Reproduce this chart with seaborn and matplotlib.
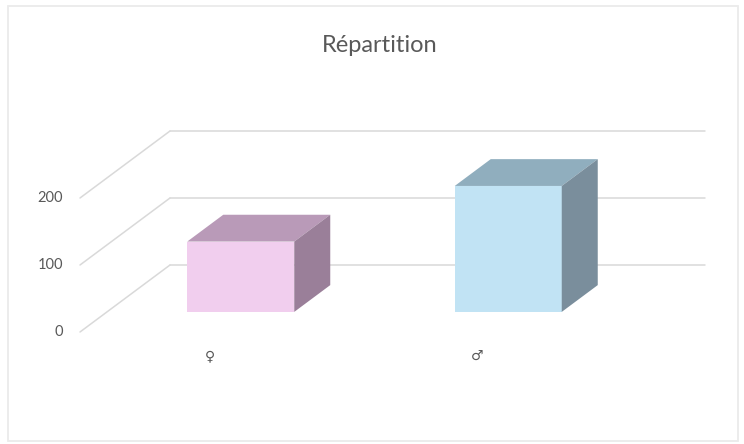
import matplotlib
matplotlib.use("Agg")
import matplotlib.pyplot as plt
from matplotlib.patches import Polygon, Rectangle
import seaborn as sns
import pandas as pd

# Data
categories = ["♀", "♂"]
values = [105, 188]
y_ticks = [0, 100, 200]
title = "Répartition"

front_colors = ["#F1CEEE", "#C1E3F4"]
top_colors = ["#B99AB8", "#90AEBE"]
side_colors = ["#9A7F99", "#7A8E9C"]

sns.set_theme(style="white")
plt.rcParams["font.family"] = ["Lato", "DejaVu Sans"]

W, H = 744, 444
fig = plt.figure(figsize=(W / 100, H / 100), dpi=100)
ax = fig.add_axes([0, 0, 1, 1])

# Oblique 3D frame: front plane spans categories -0.5..1.5, depth vector in data units
px_per_cat = 267.5
px_per_val = 0.67
front_left_px, zero_px = 80, 332
xlim = (-0.5 - front_left_px / px_per_cat, 1.5 + (W - front_left_px - 2 * px_per_cat) / px_per_cat)
ylim = (-(H - zero_px) / px_per_val, zero_px / px_per_val)

depth_x = 90 / px_per_cat
depth_y = 67 / px_per_val
bar_front, bar_back = 0.3, 0.7
grid_color = "#D9D9D9"
text_color = "#595959"

# Front faces of the bars
df = pd.DataFrame({"cat": categories, "val": values})
sns.barplot(data=df, x="cat", y="val", hue="cat", palette=front_colors,
            width=0.4, legend=False, ax=ax, saturation=1, linewidth=0, zorder=3)
ax.set_axis_off()
ax.set_xlim(*xlim)
ax.set_ylim(*ylim)

# Walls: side diagonals and back gridlines
n = len(categories)
for v in y_ticks:
    ax.plot([-0.5, -0.5 + depth_x], [v, v + depth_y], color=grid_color, lw=1.1, zorder=1)
    ax.plot([-0.5 + depth_x, n - 0.5 + depth_x], [v + depth_y, v + depth_y],
            color=grid_color, lw=1.1, zorder=1)
    ax.text(-0.5 - 17 / px_per_cat, v, str(v), ha="right", va="center",
            fontsize=10.5, color=text_color)

# Top and side faces extruded from each bar along the depth vector
bars = [p for p in ax.patches if isinstance(p, Rectangle)]
bars.sort(key=lambda p: p.get_x())
ddx = (bar_back - bar_front) * depth_x
ddy = (bar_back - bar_front) * depth_y
for i, p in enumerate(bars):
    p.set_x(p.get_x() + bar_front * depth_x)
    p.set_y(bar_front * depth_y)
    x0 = p.get_x()
    x1 = x0 + p.get_width()
    y0 = p.get_y()
    y1 = y0 + p.get_height()
    top = Polygon([(x0, y1), (x1, y1), (x1 + ddx, y1 + ddy), (x0 + ddx, y1 + ddy)],
                  closed=True, facecolor=top_colors[i], edgecolor="none", zorder=3)
    side = Polygon([(x1, y0), (x1 + ddx, y0 + ddy), (x1 + ddx, y1 + ddy), (x1, y1)],
                   closed=True, facecolor=side_colors[i], edgecolor="none", zorder=3)
    ax.add_patch(top)
    ax.add_patch(side)

# Category labels along the front edge
for i, c in enumerate(categories):
    ax.text(i - 4 / px_per_cat, -36, c, ha="center", va="center",
            fontsize=10, color=text_color, family=["DejaVu Sans"])

fig.text(380 / W, 1 - 45 / H, title, ha="center", va="center",
         fontsize=17, color=text_color)

# Chart area border
fig.patches.append(Rectangle((8 / W, 3 / H), 730 / W, 435 / H, transform=fig.transFigure,
                             fill=False, edgecolor="#EBEBEB", lw=1.3))

fig.savefig("out.png", dpi=100, facecolor="white")
